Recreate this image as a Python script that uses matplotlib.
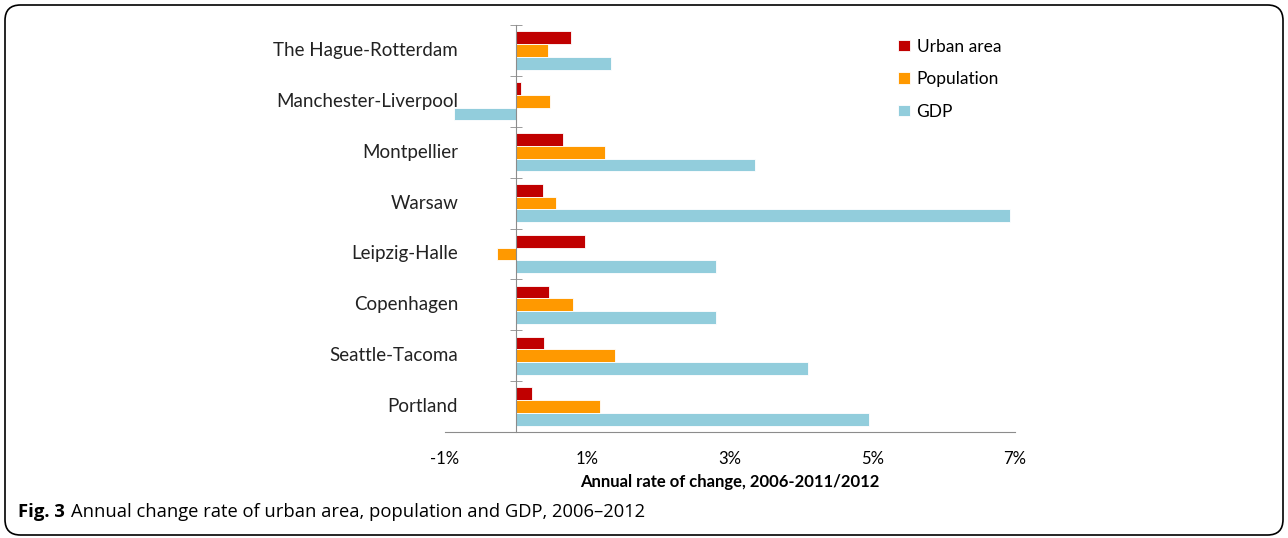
import matplotlib
matplotlib.use('Agg')
import matplotlib.pyplot as plt
from matplotlib.patches import FancyBboxPatch
import numpy as np

# data (annual % change)
cities = ["The Hague-Rotterdam", "Manchester-Liverpool", "Montpellier", "Warsaw",
          "Leipzig-Halle", "Copenhagen", "Seattle-Tacoma", "Portland"]
urban_area = [0.77, 0.07, 0.65, 0.38, 0.97, 0.46, 0.39, 0.22]
population = [0.45, 0.48, 1.24, 0.56, -0.27, 0.80, 1.38, 1.18]
gdp = [1.33, -0.88, 3.35, 6.93, 2.81, 2.81, 4.10, 4.95]
x_ticks = [-1, 1, 3, 5, 7]

series = [("Urban area", urban_area, "#C00000"),
          ("Population", population, "#FF9900"),
          ("GDP", gdp, "#92CDDC")]

plt.rcParams['font.family'] = ['Lato', 'DejaVu Sans']

fig = plt.figure(figsize=(12.88, 5.38), dpi=100)
ax = fig.add_axes([445 / 1288, 1 - 432 / 538, 570 / 1288, 407 / 538])

y = np.arange(len(cities))
h = 0.25
for i, (name, vals, col) in enumerate(series):
    ax.barh(y + (i - 1) * h, vals, height=h, color=col, edgecolor='white',
            linewidth=0.6, label=name, zorder=2)

ax.set_xlim(-1, 7)
ax.set_ylim(len(cities) - 0.5, -0.5)

# vertical axis sits on zero with small ticks between the groups
for s in ['top', 'right']:
    ax.spines[s].set_visible(False)
ax.spines['left'].set_position(('data', 0))
ax.spines['left'].set_color('#8c8c8c')
ax.spines['left'].set_zorder(3)
ax.spines['bottom'].set_color('#8c8c8c')
ax.set_yticks([])
ax.set_yticks(np.arange(len(cities) + 1) - 0.5, minor=True)
ax.tick_params(axis='y', which='minor', direction='inout', length=8,
               color='#8c8c8c', labelleft=False)

ax.set_xticks(x_ticks)
ax.set_xticklabels([f"{t}%" for t in x_ticks], fontsize=12)
ax.tick_params(axis='x', length=0, pad=14)
ax.set_xlabel("Annual rate of change, 2006-2011/2012", fontsize=12,
              fontweight='bold', labelpad=5)

for yi, name in zip(y, cities):
    ax.text(0.023, yi, name, transform=ax.get_yaxis_transform(),
            ha='right', va='center', fontsize=13.5, color='#222222')

ax.legend(loc='upper left', bbox_to_anchor=(0.768, 1.005), frameon=False,
          fontsize=12.5, handlelength=0.65, handleheight=0.65,
          handletextpad=0.4, labelspacing=0.95)

# caption and rounded frame
cap_y = 1 - 512 / 538
fig_lbl = fig.text(18 / 1288, cap_y, "Fig. 3", fontsize=13.3, fontweight='bold',
                   va='center', family=['Open Sans', 'DejaVu Sans'])
fig.canvas.draw()
bb = fig_lbl.get_window_extent().transformed(fig.transFigure.inverted())
fig.text(bb.x1 + 6 / 1288, cap_y,
         "Annual change rate of urban area, population and GDP, 2006\u20132012",
         fontsize=13.2, va='center', family=['Open Sans', 'DejaVu Sans'])

frame = FancyBboxPatch((5 / 1288, 3 / 538), 1278 / 1288, 530 / 538,
                       boxstyle="round,pad=0,rounding_size=0.012",
                       mutation_aspect=1288 / 538,
                       transform=fig.transFigure, fill=False,
                       ec='black', lw=1.2)
fig.patches.append(frame)

fig.savefig("out.png", dpi=100)
